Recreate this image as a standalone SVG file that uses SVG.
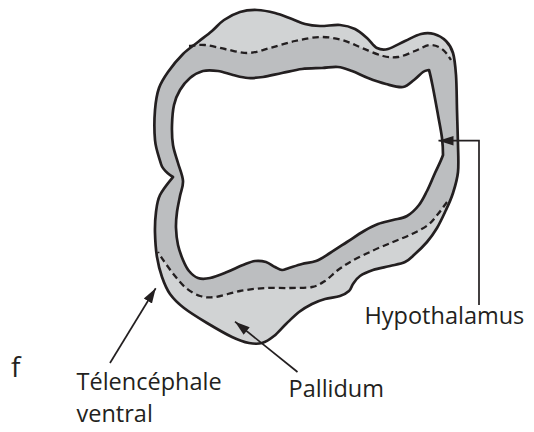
<svg xmlns="http://www.w3.org/2000/svg" width="534" height="432" viewBox="0 0 534 432">
  <style>
    .label { font-family: "Open Sans", "Liberation Sans", sans-serif; font-size: 23.5px; fill: #231f20; }
    .edge { fill: none; stroke: #231f20; stroke-width: 2.7; stroke-linejoin: round; }
    .boundary { fill: none; stroke: #231f20; stroke-width: 2.3; stroke-dasharray: 6.5 4; }
    .pointer { fill: none; stroke: #231f20; stroke-width: 1.7; }
    .light { fill: #d1d3d4; }
    .dark { fill: #bcbec0; }
  </style>
  <defs>
    <marker id="head" markerUnits="userSpaceOnUse" markerWidth="16" markerHeight="12" viewBox="0 0 16 12" refX="15" refY="6" orient="auto">
      <path d="M0,1.2 L15,6 L0,10.8 Z" fill="#231f20"/>
    </marker>
    <!-- outer contour of the section -->
    <path id="outer" d="M173,177 S163,171.2 161,164 S155.8,149.2 155,140 S154.3,118.7 155,110 S156.8,94.3 159,88 S164,77.7 168,72 S178,59 183,54 S193.2,45.8 198,42 S207.7,34.7 212,31 S219.3,23.2 224,20 S234.5,13.7 240,12 S251.2,9.8 257,10 S269.2,11.5 275,13 S287,17.2 292,19 S300.3,22.8 305,24 S314.2,25.8 320,26 S334.2,24.5 340,25 S350.5,26.8 355,29 S363.3,34.8 367,38 S373.5,46.2 377,48 S383.3,50.2 388,49 S399.5,43.5 405,41 S416.2,35.2 421,34 S429.8,32.8 434,34 S442.8,37.8 446,41 S451.3,47.3 453,53 S455.3,65.5 456,75 S456.7,98.3 457,110 S457.8,134.7 458,145 S458.8,164 458,172 S455,186.7 453,193 S448.7,204.2 446,210 S440.2,222.7 437,228 S430.7,237.7 427,242 S418.7,250.7 415,254 S409.2,260 405,262 S395.3,264.7 390,266 S378,268.3 373,270 S363.3,273.7 360,276 S354.8,281.5 353,284 S351.2,289 349,291 S344,294.7 340,296 S329.7,297.7 325,299 S316.3,301.8 312,304 S303.3,308.7 299,312 S290.2,320 286,324 S278,332.8 274,336 S266.2,341.8 262,343 S254,344 249,343 S239,340.3 232,337 S215,327.8 207,323 S190.2,312.8 184,308 S173.7,299.2 170,294 S164.2,283.2 162,277 S158.2,264.3 157,257 S155.2,240.5 155,233 S155.2,218.3 156,212 S157.2,200.8 160,195 S168,183 173,177 Z"/>
    <!-- contour of the central cavity -->
    <path id="inner" d="M183,181 C182.7,175.5 179.7,169 178,163 S174,151.3 173,145 S171.8,131.7 172,125 S172.7,110.8 174,105 S177.3,94.5 180,90 S186.2,81.2 190,78 S198.3,72.2 203,71 S213,70.3 218,71 S228,73.8 233,75 S243,77.7 248,78 S257.3,77.8 263,77 S275.5,74.3 282,73 S295.3,69.8 302,69 S316,68.3 322,68 S333,66.5 338,67 S347,69.2 352,71 S362.3,75.8 368,78 S380.2,82.5 386,84 S398.3,87.7 403,87 S410.7,82.5 414,80 S420.5,73.7 423,72 S426.5,70.5 429,70 C430.5,75 431.5,80.5 433,88 S436.5,106.7 438,115 S441.2,131.3 442,138 S443,149 443,155 C441,161 437.7,167 435,173 S429.7,185.7 427,191 S422.3,200.8 419,205 S411.3,213.5 407,216 S397.8,218.7 393,220 S382.8,222.2 378,224 S369.2,228 364,231 S352.7,238.3 347,242 S335.2,249.8 330,253 S320.7,259.2 316,261 S306.5,262.8 302,264 S292.3,267 289,268 S284.3,270.2 282,270 S277.7,268.3 275,267 S269.3,263 266,262 S258.8,260.5 255,261 S247.7,263.2 243,265 S232.5,269.8 227,272 S214.8,277 210,278 S201.5,279.2 198,278 S191.5,274 189,271 S184.8,264.3 183,260 S179.2,250.3 178,245 S176.2,233.5 176,228 S176.3,217.3 177,212 S179,201.2 180,196 S183.3,186.5 183,181 Z"/>
    <path id="rim-top" d="M189,46 C194,45.5 199,44.5 205,45 S217.8,47.7 225,49 S240.5,53.2 248,53 S262.2,50 270,48 S286.7,42.8 295,41 S312.2,37.2 320,37 S335,38.2 342,40 S355.2,45.3 362,48 S377,54.5 383,56 S392.7,57.8 398,57 S409.7,53 415,51 S425.5,45.3 430,45 S438.5,46.5 442,49 S448,55 451,60"/>
    <path id="rim-bottom" d="M447,202 C444,206 441.2,210.2 438,214 S432.3,221.7 428,225 S417.8,231.2 412,234 S399.7,239.2 393,242 S378.8,247.8 372,251 S357.7,257.8 352,261 S342.5,266.7 338,270 S329.3,278.2 325,281 S317.8,285.8 312,287 S297.8,287.8 290,288 S273.3,287.5 265,288 S248.3,289.5 240,291 S221.7,296.2 215,297 S204.8,297.5 200,296 S190.2,291.3 186,288 S178.3,280 175,276 S168.8,268 166,264 S161,257 158,252"/>
    <clipPath id="section-clip">
      <use href="#outer"/>
    </clipPath>
  </defs>

  <!-- section: darker band, lighter caps, outlines and dashed limits -->
  <g id="section">
    <path class="dark" fill-rule="evenodd" d="M173,177 S163,171.2 161,164 S155.8,149.2 155,140 S154.3,118.7 155,110 S156.8,94.3 159,88 S164,77.7 168,72 S178,59 183,54 S193.2,45.8 198,42 S207.7,34.7 212,31 S219.3,23.2 224,20 S234.5,13.7 240,12 S251.2,9.8 257,10 S269.2,11.5 275,13 S287,17.2 292,19 S300.3,22.8 305,24 S314.2,25.8 320,26 S334.2,24.5 340,25 S350.5,26.8 355,29 S363.3,34.8 367,38 S373.5,46.2 377,48 S383.3,50.2 388,49 S399.5,43.5 405,41 S416.2,35.2 421,34 S429.8,32.8 434,34 S442.8,37.8 446,41 S451.3,47.3 453,53 S455.3,65.5 456,75 S456.7,98.3 457,110 S457.8,134.7 458,145 S458.8,164 458,172 S455,186.7 453,193 S448.7,204.2 446,210 S440.2,222.7 437,228 S430.7,237.7 427,242 S418.7,250.7 415,254 S409.2,260 405,262 S395.3,264.7 390,266 S378,268.3 373,270 S363.3,273.7 360,276 S354.8,281.5 353,284 S351.2,289 349,291 S344,294.7 340,296 S329.7,297.7 325,299 S316.3,301.8 312,304 S303.3,308.7 299,312 S290.2,320 286,324 S278,332.8 274,336 S266.2,341.8 262,343 S254,344 249,343 S239,340.3 232,337 S215,327.8 207,323 S190.2,312.8 184,308 S173.7,299.2 170,294 S164.2,283.2 162,277 S158.2,264.3 157,257 S155.2,240.5 155,233 S155.2,218.3 156,212 S157.2,200.8 160,195 S168,183 173,177 Z M183,181 C182.7,175.5 179.7,169 178,163 S174,151.3 173,145 S171.8,131.7 172,125 S172.7,110.8 174,105 S177.3,94.5 180,90 S186.2,81.2 190,78 S198.3,72.2 203,71 S213,70.3 218,71 S228,73.8 233,75 S243,77.7 248,78 S257.3,77.8 263,77 S275.5,74.3 282,73 S295.3,69.8 302,69 S316,68.3 322,68 S333,66.5 338,67 S347,69.2 352,71 S362.3,75.8 368,78 S380.2,82.5 386,84 S398.3,87.7 403,87 S410.7,82.5 414,80 S420.5,73.7 423,72 S426.5,70.5 429,70 C430.5,75 431.5,80.5 433,88 S436.5,106.7 438,115 S441.2,131.3 442,138 S443,149 443,155 C441,161 437.7,167 435,173 S429.7,185.7 427,191 S422.3,200.8 419,205 S411.3,213.5 407,216 S397.8,218.7 393,220 S382.8,222.2 378,224 S369.2,228 364,231 S352.7,238.3 347,242 S335.2,249.8 330,253 S320.7,259.2 316,261 S306.5,262.8 302,264 S292.3,267 289,268 S284.3,270.2 282,270 S277.7,268.3 275,267 S269.3,263 266,262 S258.8,260.5 255,261 S247.7,263.2 243,265 S232.5,269.8 227,272 S214.8,277 210,278 S201.5,279.2 198,278 S191.5,274 189,271 S184.8,264.3 183,260 S179.2,250.3 178,245 S176.2,233.5 176,228 S176.3,217.3 177,212 S179,201.2 180,196 S183.3,186.5 183,181 Z"/>
    <g clip-path="url(#section-clip)">
      <path class="light" d="M189,46 C194,45.5 199,44.5 205,45 S217.8,47.7 225,49 S240.5,53.2 248,53 S262.2,50 270,48 S286.7,42.8 295,41 S312.2,37.2 320,37 S335,38.2 342,40 S355.2,45.3 362,48 S377,54.5 383,56 S392.7,57.8 398,57 S409.7,53 415,51 S425.5,45.3 430,45 S438.5,46.5 442,49 S448,55 451,60 L470,64 L470,0 L180,0 L175,40 Z"/>
      <path class="light" d="M447,202 C444,206 441.2,210.2 438,214 S432.3,221.7 428,225 S417.8,231.2 412,234 S399.7,239.2 393,242 S378.8,247.8 372,251 S357.7,257.8 352,261 S342.5,266.7 338,270 S329.3,278.2 325,281 S317.8,285.8 312,287 S297.8,287.8 290,288 S273.3,287.5 265,288 S248.3,289.5 240,291 S221.7,296.2 215,297 S204.8,297.5 200,296 S190.2,291.3 186,288 S178.3,280 175,276 S168.8,268 166,264 S161,257 158,252 L148,250 L140,360 L475,360 L475,198 Z"/>
    </g>
    <use href="#rim-top" class="boundary"/>
    <use href="#rim-bottom" class="boundary"/>
    <use href="#outer" class="edge"/>
    <use href="#inner" class="edge"/>
  </g>

  <!-- leader lines -->
  <g id="connectors">
    <path class="pointer" d="M479,305 V140.7 H438.5" marker-end="url(#head)"/>
    <path class="pointer" d="M110,363 L155.7,288.3" marker-end="url(#head)"/>
    <path class="pointer" d="M297.5,372 L235,321.7" marker-end="url(#head)"/>
  </g>

  <g id="label-f">
    <text class="label" x="11" y="377" style="font-size:28px">f</text>
  </g>
  <g id="label-hypothalamus">
    <text class="label" x="364.5" y="324">Hypothalamus</text>
  </g>
  <g id="label-telencephale">
    <text class="label" x="76.5" y="390">Télencéphale</text>
    <text class="label" x="76.5" y="422">ventral</text>
  </g>
  <g id="label-pallidum">
    <text class="label" x="288.5" y="397">Pallidum</text>
  </g>
</svg>
